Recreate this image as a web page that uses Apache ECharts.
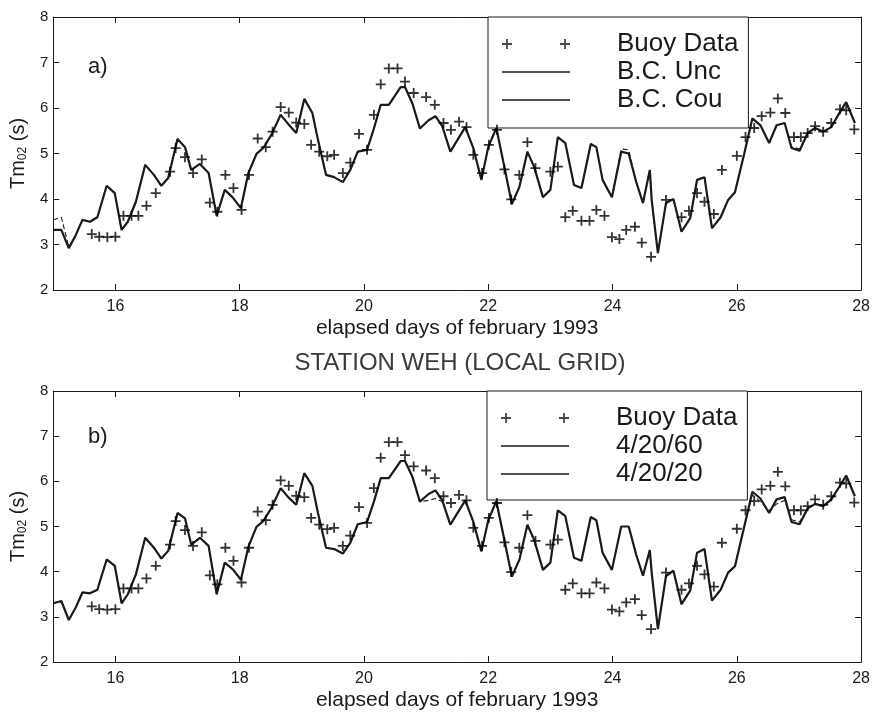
<!DOCTYPE html>
<html>
<head>
<meta charset="utf-8">
<script src="https://cdn.jsdelivr.net/npm/echarts@6/dist/echarts.min.js"></script>
<style>html,body{margin:0;padding:0;background:#fff}#c{width:873px;height:713px}</style>
</head>
<body>
<div id="c"></div>
<script>
// ---------- data ----------
const xTicks = [16, 18, 20, 22, 24, 26, 28];
const yTicks = [2, 3, 4, 5, 6, 7, 8];

const buoyDays = [15.62,15.74,15.87,16.0,16.13,16.26,16.37,16.5,16.65,16.88,16.97,17.12,17.25,17.39,17.52,17.64,17.77,17.9,18.03,18.15,18.29,18.42,18.53,18.66,18.79,18.91,19.04,19.15,19.28,19.41,19.52,19.66,19.78,19.92,20.05,20.16,20.27,20.4,20.54,20.66,20.8,21.0,21.14,21.28,21.4,21.53,21.65,21.76,21.9,22.01,22.14,22.26,22.37,22.5,22.63,22.76,23.0,23.12,23.24,23.36,23.5,23.63,23.74,23.87,23.99,24.11,24.22,24.36,24.47,24.62,24.86,25.11,25.23,25.36,25.48,25.63,25.76,26.0,26.14,26.28,26.4,26.54,26.66,26.78,26.92,27.03,27.14,27.26,27.39,27.52,27.66,27.76,27.89];
const buoyTm = [3.23,3.17,3.16,3.17,3.63,3.63,3.63,3.85,4.13,4.6,5.12,4.92,4.57,4.87,3.92,3.72,4.53,4.24,3.76,4.53,5.33,5.14,5.48,6.02,5.9,5.68,5.65,5.19,5.04,4.94,4.97,4.57,4.8,5.43,5.08,5.85,6.52,6.87,6.87,6.58,6.33,6.24,6.07,5.67,5.52,5.7,5.58,4.97,4.57,5.19,5.52,4.65,3.99,4.53,5.25,4.68,4.6,4.71,3.6,3.74,3.52,3.52,3.76,3.63,3.16,3.12,3.32,3.39,3.04,2.73,3.98,3.6,3.74,4.13,3.94,3.67,4.64,4.95,5.36,5.56,5.82,5.9,6.21,5.89,5.36,5.36,5.45,5.6,5.48,5.67,5.97,5.95,5.53];

const modelDays = [15.0,15.13,15.25,15.36,15.47,15.59,15.71,15.86,15.99,16.1,16.2,16.33,16.48,16.62,16.74,16.85,17.0,17.12,17.22,17.36,17.5,17.63,17.76,17.89,18.02,18.14,18.27,18.38,18.51,18.66,18.78,18.91,19.04,19.17,19.26,19.39,19.52,19.66,19.78,19.9,20.05,20.16,20.27,20.4,20.59,20.66,20.78,20.9,21.04,21.15,21.26,21.39,21.63,21.76,21.89,22.0,22.13,22.26,22.38,22.5,22.63,22.74,22.88,23.0,23.12,23.24,23.38,23.5,23.65,23.74,23.84,23.99,24.14,24.26,24.38,24.49,24.6,24.63,24.73,24.86,24.98,25.11,25.25,25.36,25.48,25.6,25.74,25.86,25.97,26.12,26.25,26.38,26.52,26.64,26.77,26.88,27.01,27.14,27.26,27.39,27.52,27.65,27.76,27.9];

// panel a)
const bcCou = [3.32,3.32,2.92,3.2,3.54,3.5,3.6,4.29,4.13,3.32,3.5,3.94,4.75,4.53,4.29,4.46,5.32,5.14,4.64,4.77,4.57,3.63,4.2,4.03,3.8,4.57,4.99,5.12,5.41,5.85,5.65,5.45,6.2,5.89,5.3,4.53,4.48,4.37,4.64,5.04,5.08,5.55,6.07,6.07,6.46,6.46,6.1,5.55,5.73,5.82,5.6,5.04,5.58,5.12,4.42,5.14,5.56,4.7,3.89,4.26,5.04,4.7,4.04,4.2,5.36,5.23,4.31,4.24,5.21,5.14,4.42,4.04,5.04,5.0,4.38,3.91,4.64,3.98,2.81,3.91,4.0,3.28,3.58,4.42,4.48,3.36,3.6,3.98,4.15,5.0,5.77,5.62,5.23,5.62,5.67,5.12,5.06,5.45,5.56,5.48,5.58,5.89,6.13,5.67];
const bcUnc = [3.54,3.6,2.95,3.2,3.54,3.5,3.6,4.29,4.13,3.32,3.5,3.94,4.75,4.53,4.29,4.46,5.32,5.14,4.64,4.77,4.57,3.63,4.2,4.03,3.8,4.57,4.99,5.12,5.41,5.85,5.65,5.45,6.2,5.89,5.3,4.53,4.48,4.37,4.64,5.04,5.08,5.55,6.07,6.07,6.46,6.46,6.1,5.55,5.73,5.82,5.6,5.04,5.58,5.12,4.42,5.14,5.56,4.7,3.89,4.26,5.04,4.7,4.04,4.2,5.36,5.23,4.31,4.24,5.21,5.14,4.42,4.04,5.1,5.08,4.38,3.91,4.64,3.98,2.81,3.91,4.0,3.28,3.58,4.42,4.48,3.36,3.6,3.98,4.15,5.0,5.77,5.62,5.23,5.62,5.67,5.15,5.1,5.45,5.56,5.48,5.58,5.89,6.13,5.67];

// panel b)
const run2020 = [3.3,3.35,2.93,3.2,3.54,3.52,3.6,4.27,4.13,3.3,3.5,3.94,4.75,4.53,4.29,4.46,5.3,5.18,4.6,4.75,4.57,3.5,4.2,4.05,3.82,4.55,4.99,5.12,5.41,5.85,5.65,5.48,6.18,5.9,5.3,4.53,4.5,4.4,4.64,5.05,5.1,5.55,6.07,6.07,6.45,6.45,6.1,5.55,5.72,5.8,5.58,5.04,5.58,5.1,4.45,5.14,5.56,4.7,3.89,4.26,5.04,4.7,4.04,4.2,5.36,5.23,4.31,4.24,5.21,5.14,4.42,4.04,5.0,5.0,4.38,3.91,4.48,3.98,2.73,3.9,4.02,3.28,3.58,4.42,4.5,3.36,3.6,3.98,4.12,5.0,5.77,5.62,5.3,5.6,5.65,5.1,5.05,5.4,5.5,5.45,5.6,5.88,6.13,5.67];
const run2060 = [3.3,3.35,2.93,3.2,3.54,3.52,3.6,4.27,4.13,3.3,3.5,3.94,4.75,4.53,4.29,4.46,5.3,5.18,4.6,4.75,4.57,3.5,4.2,4.05,3.82,4.55,4.99,5.12,5.41,5.85,5.65,5.48,6.18,5.9,5.3,4.53,4.5,4.4,4.64,5.05,5.1,5.55,6.07,6.07,6.45,6.45,6.1,5.55,5.58,5.62,5.55,5.04,5.58,5.1,4.45,5.14,5.56,4.7,3.89,4.26,5.04,4.7,4.04,4.2,5.36,5.23,4.31,4.24,5.21,5.14,4.42,4.04,5.0,5.0,4.38,3.91,4.48,3.98,2.73,3.9,4.02,3.28,3.58,4.42,4.5,3.36,3.6,3.98,4.12,5.0,5.7,5.55,5.35,5.5,5.58,5.15,5.1,5.4,5.5,5.45,5.6,5.88,6.13,5.67];

// ---------- chart ----------
const pairs = (xs, ys) => xs.map((x, i) => [x, ys[i]]);
const FONT = '"Liberation Sans", Arial, Helvetica, sans-serif';
const INK = '#1a1a1a';
const plusPath = 'path://M4.1,0H5.9V4.1H10V5.9H5.9V10H4.1V5.9H0V4.1H4.1Z';
const plusPairIcon = 'path://M4.1,0H5.9V4.1H10V5.9H5.9V10H4.1V5.9H0V4.1H4.1Z M62.1,0H63.9V4.1H68V5.9H63.9V10H62.1V5.9H58V4.1H62.1Z';
const lineIcon = 'path://M0,0L0,0.01Z M0,4.3H68V5.7H0Z M68,9.99L68,10Z';

function xMain(gi) {
  return {
    type: 'value', gridIndex: gi, min: 15, max: 28, position: 'bottom',
    name: 'elapsed days of february 1993', nameLocation: 'middle', nameGap: 28,
    nameTextStyle: { fontSize: 21, color: INK, fontFamily: FONT },
    axisLine: { show: true, onZero: false, lineStyle: { color: INK, width: 1 } },
    axisTick: { show: true, inside: true, length: 6, customValues: xTicks, lineStyle: { color: INK } },
    axisLabel: { show: true, customValues: xTicks, margin: 9, fontSize: 16, color: INK, fontFamily: FONT },
    splitLine: { show: false }
  };
}
function xTop(gi) {
  return {
    type: 'value', gridIndex: gi, min: 15, max: 28, position: 'top',
    axisLine: { show: true, onZero: false, lineStyle: { color: INK, width: 1 } },
    axisTick: { show: true, inside: true, length: 6, customValues: xTicks, lineStyle: { color: INK } },
    axisLabel: { show: false }, splitLine: { show: false }
  };
}
function yMain(gi) {
  return {
    type: 'value', gridIndex: gi, min: 2, max: 8, interval: 1, position: 'left',
    name: '{a|Tm}{b|02}{a| (s)}', nameLocation: 'middle', nameGap: 18, nameRotate: 90,
    nameTextStyle: {
      color: INK, fontFamily: FONT,
      rich: {
        a: { fontSize: 20, color: INK, fontFamily: FONT },
        b: { fontSize: 12, color: INK, fontFamily: FONT, padding: [10, 0, 0, 0] }
      }
    },
    axisLine: { show: true, onZero: false, lineStyle: { color: INK, width: 1 } },
    axisTick: { show: true, inside: true, length: 6, lineStyle: { color: INK } },
    axisLabel: { show: true, margin: 5, fontSize: 15, color: INK, fontFamily: FONT },
    splitLine: { show: false }
  };
}
function yRight(gi) {
  return {
    type: 'value', gridIndex: gi, min: 2, max: 8, interval: 1, position: 'right',
    axisLine: { show: true, onZero: false, lineStyle: { color: INK, width: 1 } },
    axisTick: { show: true, inside: true, length: 6, lineStyle: { color: INK } },
    axisLabel: { show: false }, splitLine: { show: false }
  };
}
function legendFor(left, top, names, pad) {
  return {
    orient: 'vertical', left: left, top: top, padding: pad,
    itemWidth: 68, itemHeight: 10, itemGap: 2,
    backgroundColor: '#fff', borderColor: INK, borderWidth: 1, borderRadius: 0,
    selectedMode: false,
    textStyle: { fontSize: 26, lineHeight: 25, color: INK, fontFamily: FONT, padding: [0, 0, 0, 42] },
    data: [
      { name: names[0], icon: plusPairIcon, itemStyle: { color: INK } },
      { name: names[1], icon: lineIcon, itemStyle: { color: INK } },
      { name: names[2], icon: lineIcon, itemStyle: { color: INK } }
    ]
  };
}
function modelSeries(name, gi, ys, dashed) {
  return {
    name: name, type: 'line', xAxisIndex: gi * 2, yAxisIndex: gi * 2,
    data: pairs(modelDays, ys), showSymbol: false, symbol: 'none', animation: false,
    lineStyle: dashed ? { color: INK, width: 1.1, type: [5, 3] } : { color: INK, width: 2.2 },
    itemStyle: { color: INK }, z: dashed ? 2 : 3
  };
}
function buoySeries(gi) {
  return {
    name: 'Buoy Data', type: 'scatter', xAxisIndex: gi * 2, yAxisIndex: gi * 2,
    data: pairs(buoyDays, buoyTm), symbol: plusPath, symbolSize: 10, animation: false,
    itemStyle: { color: '#000' }, z: 4
  };
}

const chart = echarts.init(document.getElementById('c'), null, { renderer: 'canvas' });
chart.setOption({
  backgroundColor: '#fff',
  animation: false,
  textStyle: { fontFamily: FONT },
  grid: [
    { left: 51, right: 10, top: 17, height: 273 },
    { left: 49, right: 11, top: 391, height: 271 }
  ],
  xAxis: [xMain(0), xTop(0), xMain(1), xTop(1)],
  yAxis: [yMain(0), yRight(0), yMain(1), yRight(1)],
  legend: [
    legendFor(488, 17, ['Buoy Data', 'B.C. Unc', 'B.C. Cou'], [14, 10, 15, 14]),
    legendFor(487, 391, ['Buoy Data', '4/20/60', '4/20/20'], [14, 10, 13, 14])
  ],
  graphic: [
    { type: 'text', x: 460, y: 363, style: { text: 'STATION WEH (LOCAL GRID)', font: '24px ' + FONT, fill: '#3a3a3a', align: 'center', verticalAlign: 'middle' } },
    { type: 'text', x: 88, y: 67, style: { text: 'a)', font: '22px ' + FONT, fill: INK, align: 'left', verticalAlign: 'middle' } },
    { type: 'text', x: 88, y: 437, style: { text: 'b)', font: '22px ' + FONT, fill: INK, align: 'left', verticalAlign: 'middle' } }
  ],
  series: [
    modelSeries('B.C. Unc', 0, bcUnc, true),
    modelSeries('B.C. Cou', 0, bcCou, false),
    buoySeries(0),
    modelSeries('4/20/60', 1, run2060, true),
    modelSeries('4/20/20', 1, run2020, false),
    buoySeries(1)
  ]
});
</script>
</body>
</html>
